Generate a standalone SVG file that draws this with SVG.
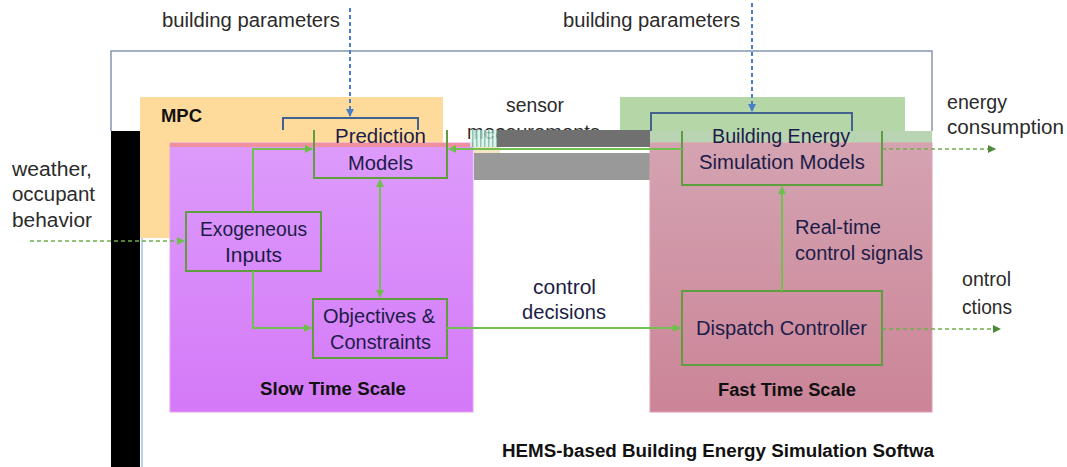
<svg xmlns="http://www.w3.org/2000/svg" width="1067" height="467" viewBox="0 0 1067 467">
<style>
text{font-family:"Liberation Sans",Arial,sans-serif;font-size:20px}
.lbl{fill:#2b2b2b}
.in{fill:#1c1c48}
.bold{font-weight:bold;fill:#111111;font-size:18px}
.box{fill:none;stroke:#5e9e3e;stroke-width:2}
.conn{fill:none;stroke:#72c050;stroke-width:2}
.dash{fill:none;stroke:#6cb04a;stroke-width:1.5;stroke-dasharray:4 3}
.bdash{fill:none;stroke:#4a7ec8;stroke-width:2;stroke-dasharray:4 3}
.brk{fill:none;stroke:#44628f;stroke-width:2}
</style>
<defs>
<marker id="ag" markerWidth="8" markerHeight="8" refX="7" refY="4" orient="auto" markerUnits="userSpaceOnUse"><path d="M0,0 L8,4 L0,8 z" fill="#6cbf4a"/></marker>
<marker id="ags" markerWidth="8" markerHeight="8" refX="1" refY="4" orient="auto" markerUnits="userSpaceOnUse"><path d="M8,0 L0,4 L8,8 z" fill="#6cbf4a"/></marker>
<marker id="ab" markerWidth="8" markerHeight="8" refX="7" refY="4" orient="auto" markerUnits="userSpaceOnUse"><path d="M0,0 L8,4 L0,8 z" fill="#4a7ec8"/></marker>
<marker id="ad" markerWidth="8" markerHeight="8" refX="7" refY="4" orient="auto" markerUnits="userSpaceOnUse"><path d="M0,0 L8,4 L0,8 z" fill="#4f8a3a"/></marker>
<linearGradient id="gslow" x1="0" y1="0" x2="0" y2="1"><stop offset="0" stop-color="#dd9bfb"/><stop offset="1" stop-color="#d479f8"/></linearGradient>
<linearGradient id="gfast" x1="0" y1="0" x2="0" y2="1"><stop offset="0" stop-color="#d4a3b1"/><stop offset="1" stop-color="#cb8498"/></linearGradient>
<pattern id="stripes" width="4" height="17" patternUnits="userSpaceOnUse"><rect width="4" height="17" fill="#d8f0e8"/><rect width="1.5" height="17" fill="#6fb8a0"/></pattern>
</defs>

<g id="frame">
<path d="M111,131 V51 H932 V131" fill="none" stroke="#8497b0" stroke-width="1.5"/>
<rect x="111" y="131" width="29" height="336" fill="#000000"/>
<line x1="142" y1="238" x2="142" y2="467" stroke="#6fa8dc" stroke-width="1"/>
</g>

<g id="mpc">
<rect x="140" y="97" width="303" height="141" fill="#fedb9b"/>
<text class="bold" x="161" y="122" textLength="41" lengthAdjust="spacingAndGlyphs">MPC</text>
</g>

<g id="building-sim-region">
<rect x="620" y="97" width="285" height="34" fill="#b5d6a7"/>
<rect x="650" y="131" width="282" height="12" fill="#b9d4b2"/>
</g>

<g id="gray-band">
<rect x="474" y="153" width="176" height="27" fill="#999999"/>
<rect x="474" y="147" width="26" height="6" fill="#f4e4c0"/>
</g>

<g id="slow">
<rect x="170" y="143" width="303" height="269" fill="url(#gslow)" stroke="#e8a0f0" stroke-width="1"/>
<rect x="170" y="143" width="303" height="4" fill="#f0909c"/>
<text class="bold" x="260" y="395" textLength="146" lengthAdjust="spacingAndGlyphs">Slow Time Scale</text>
</g>

<g id="fast">
<rect x="650" y="143" width="282" height="269" fill="url(#gfast)" stroke="#e0a0b0" stroke-width="1"/>
<text class="bold" x="718" y="396" textLength="138" lengthAdjust="spacingAndGlyphs">Fast Time Scale</text>
</g>

<g id="sensor-label">
<text class="lbl" x="506" y="112" textLength="58" lengthAdjust="spacingAndGlyphs">sensor</text>
<text class="lbl" x="467" y="139" textLength="133" lengthAdjust="spacingAndGlyphs">measurements</text>
<rect x="470" y="130" width="27" height="17" fill="url(#stripes)" opacity="0.8"/>
<rect x="497" y="130" width="153" height="17" fill="#707070"/>
</g>

<g id="brackets">
<path class="brk" d="M283,130 V118 H418 V130"/>
<path class="brk" d="M651,131 V113 H852 V131"/>
</g>

<g id="prediction-models">
<path class="box" d="M314,130 V178 H447 V130"/>
<text class="in" x="335" y="143" textLength="91" lengthAdjust="spacingAndGlyphs">Prediction</text>
<text class="in" x="348" y="170" textLength="65" lengthAdjust="spacingAndGlyphs">Models</text>
</g>

<g id="exogeneous-inputs">
<rect class="box" x="186" y="212" width="135" height="59"/>
<text class="in" x="200" y="236" textLength="107" lengthAdjust="spacingAndGlyphs">Exogeneous</text>
<text class="in" x="225" y="262" textLength="57" lengthAdjust="spacingAndGlyphs">Inputs</text>
</g>

<g id="objectives-constraints">
<rect class="box" x="313" y="299" width="134" height="59"/>
<text class="in" x="323" y="323" textLength="112" lengthAdjust="spacingAndGlyphs">Objectives &amp;</text>
<text class="in" x="330" y="349" textLength="101" lengthAdjust="spacingAndGlyphs">Constraints</text>
</g>

<g id="building-energy-simulation-models">
<path class="box" d="M682,131 V185 H882 V131"/>
<text class="in" x="712" y="143" textLength="138" lengthAdjust="spacingAndGlyphs">Building Energy</text>
<text class="in" x="699" y="169" textLength="166" lengthAdjust="spacingAndGlyphs">Simulation Models</text>
</g>

<g id="dispatch-controller">
<rect class="box" x="682" y="291" width="200" height="74"/>
<text class="in" x="696" y="335" textLength="171" lengthAdjust="spacingAndGlyphs">Dispatch Controller</text>
</g>

<g id="connectors">
<path class="bdash" d="M350,8 V116" marker-end="url(#ab)"/>
<path class="bdash" d="M752,3 V111" marker-end="url(#ab)"/>
<path class="dash" d="M30,241 H184" marker-end="url(#ag)"/>
<path class="conn" d="M253,212 V149 H312" marker-end="url(#ag)"/>
<path class="conn" d="M253,271 V328 H311" marker-end="url(#ag)"/>
<path class="conn" d="M380,180 V297" marker-start="url(#ags)" marker-end="url(#ag)"/>
<path class="conn" d="M682,149 H449" marker-end="url(#ag)"/>
<path class="conn" d="M447,328 H680" marker-end="url(#ag)"/>
<path class="conn" d="M782,291 V187" marker-end="url(#ag)"/>
<path class="dash" d="M882,149 H995" marker-end="url(#ad)"/>
<path class="dash" d="M882,329 H1000" marker-end="url(#ad)"/>
</g>

<g id="labels">
<text class="lbl" x="162" y="27" textLength="178" lengthAdjust="spacingAndGlyphs">building parameters</text>
<text class="lbl" x="563" y="27" textLength="177" lengthAdjust="spacingAndGlyphs">building parameters</text>
<text class="lbl" x="12" y="176" textLength="80" lengthAdjust="spacingAndGlyphs">weather,</text>
<text class="lbl" x="12" y="201" textLength="83" lengthAdjust="spacingAndGlyphs">occupant</text>
<text class="lbl" x="12" y="227" textLength="80" lengthAdjust="spacingAndGlyphs">behavior</text>
<text class="lbl" x="947" y="109" textLength="60" lengthAdjust="spacingAndGlyphs">energy</text>
<text class="lbl" x="947" y="134" textLength="117" lengthAdjust="spacingAndGlyphs">consumption</text>
<text class="in" x="533" y="294" textLength="63" lengthAdjust="spacingAndGlyphs">control</text>
<text class="in" x="522" y="319" textLength="84" lengthAdjust="spacingAndGlyphs">decisions</text>
<text class="in" x="795" y="234" textLength="86" lengthAdjust="spacingAndGlyphs">Real-time</text>
<text class="in" x="795" y="260" textLength="128" lengthAdjust="spacingAndGlyphs">control signals</text>
<text class="lbl" x="962" y="286" textLength="49" lengthAdjust="spacingAndGlyphs">ontrol</text>
<text class="lbl" x="962" y="314" textLength="50" lengthAdjust="spacingAndGlyphs">ctions</text>
<text class="bold" x="502" y="457" textLength="432" lengthAdjust="spacingAndGlyphs">HEMS-based Building Energy Simulation Softwa</text>
</g>
</svg>
